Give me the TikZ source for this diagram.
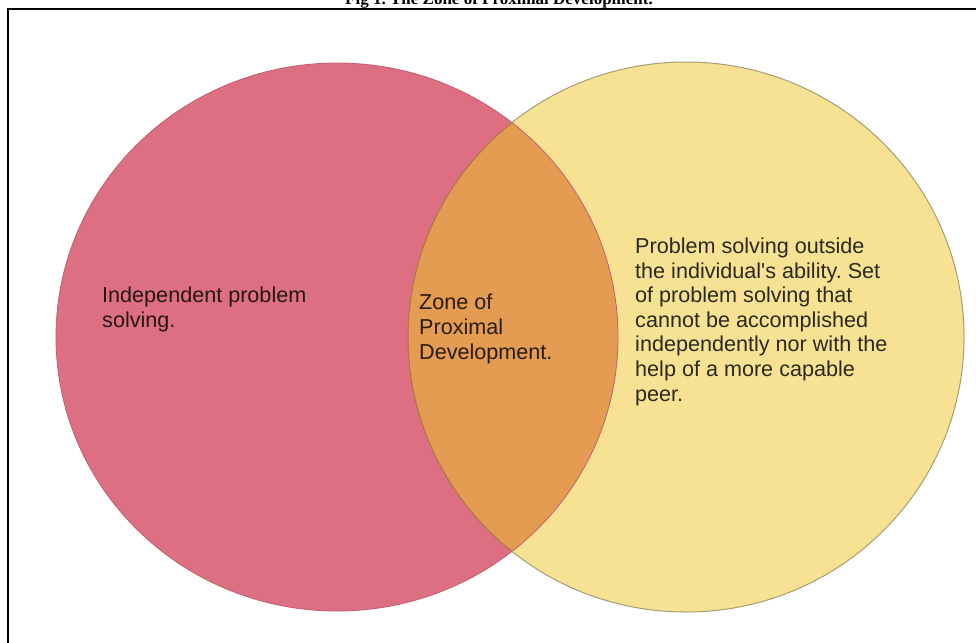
\documentclass[tikz,border=0pt]{standalone}
\usepackage{fontspec}
\setmainfont{Liberation Serif}
\newfontfamily\labelsans{Liberation Sans}
\frenchspacing
\definecolor{pinkc}{HTML}{DC6F81}
\definecolor{pinkedge}{HTML}{C45E70}
\definecolor{yellowc}{HTML}{F7E294}
\definecolor{yellowedge}{HTML}{A59E72}
\definecolor{lensc}{HTML}{E49C52}
\definecolor{lensedge}{HTML}{B8703A}
\tikzset{
  x=1pt, y=1pt,
  lbl/.style={anchor=base west, align=left, inner sep=0pt,
    font=\labelsans\fontsize{21.6}{24.6}\selectfont, text=black, text opacity=0.82},
  ttl/.style={anchor=base, inner sep=0pt, font=\bfseries\fontsize{17}{20}\selectfont}
}
\begin{document}
\begin{tikzpicture}
\useasboundingbox (0,0) rectangle (976,-642);
\fill[white] (0,0) rectangle (976,-642);
% title (cut off at top, as in the reference)
\node[ttl] (title) at (499,-5) {Fig 1. The Zone of Proximal Development.};
% frame
\draw[line width=2pt] (8,-9) rectangle (1000,-680);
% circles
\fill[pinkc] (337,-337) ellipse [x radius=281, y radius=274];
\fill[yellowc] (686,-337) ellipse [x radius=278, y radius=275];
\begin{scope}
  \clip (337,-337) ellipse [x radius=281, y radius=274];
  \fill[lensc] (686,-337) ellipse [x radius=278, y radius=275];
\end{scope}
\draw[pinkedge, line width=0.8pt] (337,-337) ellipse [x radius=281, y radius=274];
\draw[yellowedge, line width=1pt] (686,-337) ellipse [x radius=278, y radius=275];
\begin{scope}
  \clip (337,-337) ellipse [x radius=281, y radius=274];
  \draw[lensedge, line width=1pt] (686,-337) ellipse [x radius=278, y radius=275];
\end{scope}
% labels (base anchor = baseline of last line)
\node[lbl] (indep) at (102,-327.5) {Independent problem\\solving.};
\node[lbl] (zpd) at (419,-359) {Zone of\\Proximal\\Development.};
\node[lbl] (outside) at (635,-401) {Problem solving outside\\the individual's ability. Set\\of problem solving that\\cannot be accomplished\\independently nor with the\\help of a more capable\\peer.};
\end{tikzpicture}
\end{document}
